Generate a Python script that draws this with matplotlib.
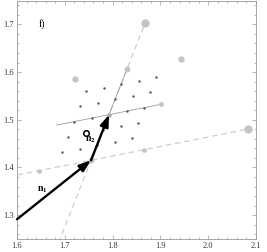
import matplotlib
matplotlib.use("Agg")
import matplotlib.pyplot as plt
from matplotlib.ticker import MultipleLocator

plt.rcParams['font.family'] = ['Liberation Serif', 'DejaVu Serif']
plt.rcParams['mathtext.fontset'] = 'stix'

# lattice points (small dark dots)
dot_x = [1.7444, 1.7810, 1.8176, 1.8542, 1.8908,
         1.7319, 1.7685, 1.8051, 1.8417, 1.8783,
         1.7193, 1.7559, 1.8291, 1.8657,
         1.7068, 1.7800, 1.8166, 1.8532,
         1.6942, 1.7308, 1.7674, 1.8040, 1.8406]
dot_y = [1.5599, 1.5672, 1.5745, 1.5818, 1.5891,
         1.5280, 1.5353, 1.5426, 1.5499, 1.5572,
         1.4961, 1.5034, 1.5180, 1.5253,
         1.4642, 1.4788, 1.4861, 1.4934,
         1.4323, 1.4396, 1.4469, 1.4542, 1.4615]

# light grey (coarse lattice) points and their marker sizes
big_x = [1.7925, 1.9023, 1.8302, 1.7204, 1.9430, 1.7549, 1.6451, 1.8647, 1.8678, 2.0843]
big_y = [1.5107, 1.5326, 1.6064, 1.5845, 1.6283, 1.4150, 1.3931, 1.4369, 1.7021, 1.4807]
big_s = [3.2, 3.6, 4.2, 4.6, 4.6, 4.2, 3.4, 3.4, 6.0, 6.0]
big_c = ['#a8a8a8'] + ['#c4c4c4'] * 9

# dashed guide lines (start, end)
steep_line_x = [1.6796, 1.8678]
steep_line_y = [1.2236, 1.7021]
flat_line_x = [1.5353, 2.0843]
flat_line_y = [1.3712, 1.4807]
# thin solid segments
steep_seg_x = [1.7925, 1.8302]
steep_seg_y = [1.5107, 1.6064]
flat_seg_x = [1.6827, 1.9023]
flat_seg_y = [1.4888, 1.5326]

# arrows
n1_start = (1.6, 1.2914)
n1_end = (1.7549, 1.4150)
n2_start = (1.7549, 1.4150)
n2_end = (1.7925, 1.5107)

target_x = [1.7434]
target_y = [1.4715]

fig = plt.figure(figsize=(2.67, 2.52), dpi=100)
ax = fig.add_axes([17/267, 13/252, 239/267, 238.5/252])

ax.plot(steep_line_x, steep_line_y, color='#c8c8c8', lw=0.8, ls=(0, (5, 3.5)), zorder=1)
ax.plot(flat_line_x, flat_line_y, color='#c8c8c8', lw=0.8, ls=(0, (5, 3.5)), zorder=1)
ax.plot(steep_seg_x, steep_seg_y, color='#9a9a9a', lw=0.6, zorder=2)
ax.plot(flat_seg_x, flat_seg_y, color='#9a9a9a', lw=0.6, zorder=2)

ax.scatter(dot_x, dot_y, s=3.0, color='#555555', lw=0, zorder=3)
for x, y, s, c in zip(big_x, big_y, big_s, big_c):
    ax.plot([x], [y], 'o', ms=s, color=c, mec='none', zorder=3)

ax.plot(target_x, target_y, 'o', ms=4.0, mfc='none', mec='black', mew=1.1, zorder=5)

for (s, e) in [(n1_start, n1_end), (n2_start, n2_end)]:
    ax.annotate('', xy=e, xytext=s,
                arrowprops=dict(arrowstyle='-|>,head_length=0.7,head_width=0.25',
                                color='black', lw=1.7, shrinkA=0, shrinkB=0,
                                mutation_scale=10),
                zorder=6)

ax.text(1.6517, 1.700, 'f)', fontsize=7, ha='center', va='center')
ax.text(1.6538, 1.354, r'$\mathbf{n}_\mathbf{1}$', fontsize=7, ha='center', va='center')
ax.text(1.7527, 1.4584, r'$\mathbf{n}_\mathbf{2}$', fontsize=7, ha='center', va='center')

ax.set_xlim(1.6, 2.1)
ax.set_ylim(1.25, 1.75)
ax.xaxis.set_minor_locator(MultipleLocator(0.02))
ax.yaxis.set_minor_locator(MultipleLocator(0.02))
ax.set_xticks([1.6, 1.7, 1.8, 1.9, 2.0, 2.1])
ax.set_xticklabels(['1.6', '1.7', '1.8', '1.9', '2.0', '2.1'])
ax.set_yticks([1.3, 1.4, 1.5, 1.6, 1.7])
ax.set_yticklabels(['1.3', '1.4', '1.5', '1.6', '1.7'])

ax.tick_params(which='both', direction='in', top=True, right=True, color='#999999',
               labelsize=6, labelcolor='#333333', width=0.5)
ax.tick_params(which='major', length=3, pad=2)
ax.tick_params(which='minor', length=1.5)
for sp in ax.spines.values():
    sp.set_color('#999999')
    sp.set_linewidth(0.6)

fig.savefig('out.png', dpi=100)
